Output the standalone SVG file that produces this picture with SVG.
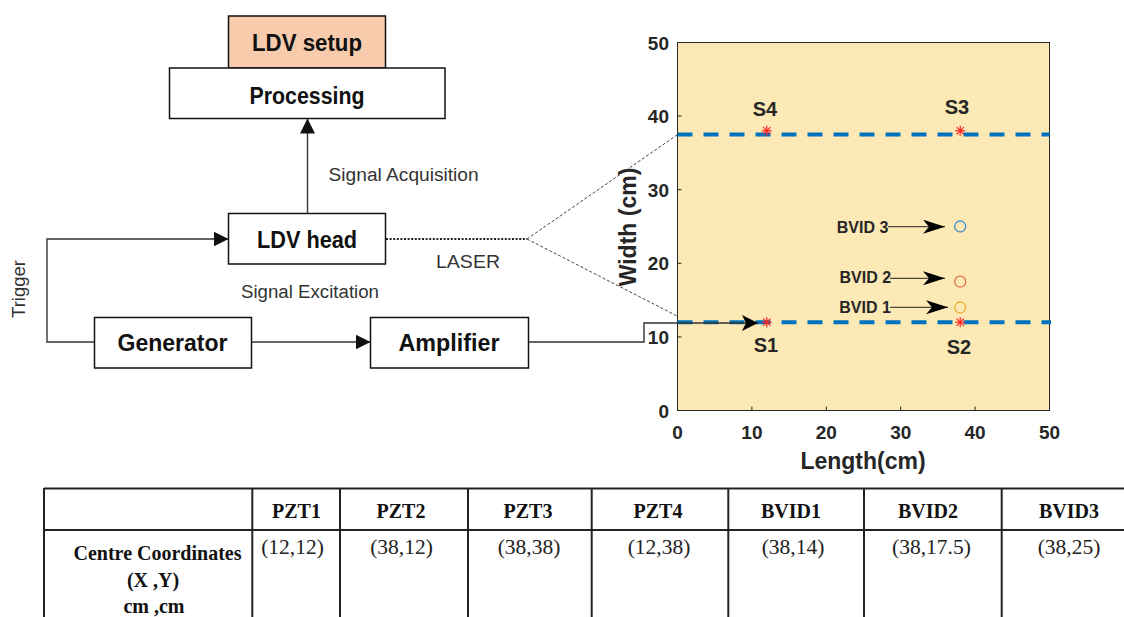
<svg xmlns="http://www.w3.org/2000/svg" width="1124" height="617" viewBox="0 0 1124 617">
<style>
.box{fill:#fff;stroke:#111;stroke-width:1.5}
.bl{font-family:"Liberation Sans",Arial,sans-serif;font-weight:bold;font-size:23.5px;fill:#111;text-anchor:middle}
.rl{font-family:"Liberation Sans",Arial,sans-serif;font-size:18px;fill:#333;text-anchor:middle}
.conn{fill:none;stroke:#333;stroke-width:1.4}
.ax{font-family:"Liberation Sans",Arial,sans-serif;font-weight:bold;fill:#262626}
.tick{stroke:#262626;stroke-width:1}
.blue{stroke:#0072bd;stroke-width:4;stroke-dasharray:15 11;fill:none}
.ast line{stroke:#ff2020;stroke-width:1.2}
.th{font-family:"Liberation Serif","Times New Roman",serif;font-weight:bold;font-size:20px;fill:#111;text-anchor:middle}
.td{font-family:"Liberation Serif","Times New Roman",serif;font-size:21.5px;fill:#222;text-anchor:middle}
.tl{stroke:#222;stroke-width:2}
</style>
<defs>
<marker id="tri" viewBox="0 0 15 15" refX="15" refY="7.5" markerWidth="15" markerHeight="15" markerUnits="userSpaceOnUse" orient="auto">
<path d="M0,0 L15,7.5 L0,15 z" fill="#111"/>
</marker>
<marker id="stealth" viewBox="0 0 22 14" refX="22" refY="7" markerWidth="22" markerHeight="14" markerUnits="userSpaceOnUse" orient="auto">
<path d="M0,0 L22,7 L0,14 L6,7 z" fill="#000"/>
</marker>
<marker id="stealth2" viewBox="0 0 16 16" refX="16" refY="8" markerWidth="16" markerHeight="16" markerUnits="userSpaceOnUse" orient="auto">
<path d="M0,0 L16,8 L0,16 L4,8 z" fill="#000"/>
</marker>
<g id="ast" class="ast">
<line x1="-5" y1="0" x2="5" y2="0"/>
<line x1="0" y1="-5" x2="0" y2="5"/>
<line x1="-3.6" y1="-3.6" x2="3.6" y2="3.6"/>
<line x1="-3.6" y1="3.6" x2="3.6" y2="-3.6"/>
</g>
</defs>
<rect width="1124" height="617" fill="#fff"/>

<!-- Plot -->
<g id="plot">
<rect x="677.5" y="42.5" width="372" height="368" fill="#fde9b5" stroke="#262626" stroke-width="1"/>
<g class="tick">
<line x1="751.9" y1="410.5" x2="751.9" y2="406.5"/>
<line x1="826.3" y1="410.5" x2="826.3" y2="406.5"/>
<line x1="900.7" y1="410.5" x2="900.7" y2="406.5"/>
<line x1="975.1" y1="410.5" x2="975.1" y2="406.5"/>
<line x1="677.5" y1="336.9" x2="681.5" y2="336.9"/>
<line x1="677.5" y1="263.3" x2="681.5" y2="263.3"/>
<line x1="677.5" y1="189.7" x2="681.5" y2="189.7"/>
<line x1="677.5" y1="116.1" x2="681.5" y2="116.1"/>
</g>
<g class="ax" font-size="19" text-anchor="end">
<text x="669" y="417.5">0</text>
<text x="669" y="343.9">10</text>
<text x="669" y="270.3">20</text>
<text x="669" y="196.7">30</text>
<text x="669" y="123.1">40</text>
<text x="669" y="49.5">50</text>
</g>
<g class="ax" font-size="19" text-anchor="middle">
<text x="677.5" y="438.5">0</text>
<text x="751.9" y="438.5">10</text>
<text x="826.3" y="438.5">20</text>
<text x="900.7" y="438.5">30</text>
<text x="975.1" y="438.5">40</text>
<text x="1049.5" y="438.5">50</text>
</g>
<text class="ax" font-size="23" text-anchor="middle" x="863" y="469">Length(cm)</text>
<text class="ax" font-size="23" text-anchor="middle" transform="translate(636,227) rotate(-90)">Width (cm)</text>
<line class="blue" x1="677.5" y1="134.5" x2="1049.5" y2="134.5"/>
<line class="blue" x1="677.5" y1="322.2" x2="1051" y2="322.2"/>
</g>

<g id="S1"><use href="#ast" x="766.8" y="322.2"/><text class="ax" font-size="20" text-anchor="middle" x="766" y="351.5">S1</text></g>
<g id="S2"><use href="#ast" x="960.2" y="322.2"/><text class="ax" font-size="20" text-anchor="middle" x="959" y="353.5">S2</text></g>
<g id="S3"><use href="#ast" x="960.2" y="130.8"/><text class="ax" font-size="20" text-anchor="middle" x="957" y="113.5">S3</text></g>
<g id="S4"><use href="#ast" x="766.8" y="130.8"/><text class="ax" font-size="20" text-anchor="middle" x="765" y="115.5">S4</text></g>

<g id="BVID3"><circle cx="960.2" cy="226.5" r="5.5" fill="none" stroke="#3d8ec9" stroke-width="1.3"/><text class="ax" font-size="16" text-anchor="middle" x="862.5" y="233">BVID 3</text></g>
<g id="BVID2"><circle cx="960.2" cy="281.7" r="5.5" fill="none" stroke="#e0764a" stroke-width="1.3"/><text class="ax" font-size="16" text-anchor="middle" x="865.3" y="283">BVID 2</text></g>
<g id="BVID1"><circle cx="960.2" cy="307.5" r="5.5" fill="none" stroke="#e8b030" stroke-width="1.3"/><text class="ax" font-size="16" text-anchor="middle" x="865" y="313">BVID 1</text></g>

<!-- Block diagram nodes -->
<g id="ldv-setup"><rect class="box" x="228.5" y="16" width="157" height="52" style="fill:#f8cbad"/><text class="bl" x="307" y="50.5" textLength="110" lengthAdjust="spacingAndGlyphs">LDV setup</text></g>
<g id="processing"><rect class="box" x="169.5" y="68" width="275.5" height="50.5"/><text class="bl" x="307" y="104" textLength="115" lengthAdjust="spacingAndGlyphs">Processing</text></g>
<g id="ldv-head"><rect class="box" x="228.5" y="213.5" width="157" height="50.5"/><text class="bl" x="307" y="248" textLength="100" lengthAdjust="spacingAndGlyphs">LDV head</text></g>
<g id="generator"><rect class="box" x="94.5" y="317.5" width="157" height="50.5"/><text class="bl" x="172.5" y="350.5" textLength="110" lengthAdjust="spacingAndGlyphs">Generator</text></g>
<g id="amplifier"><rect class="box" x="370.5" y="317.5" width="158" height="50.5"/><text class="bl" x="449" y="350.5" textLength="101" lengthAdjust="spacingAndGlyphs">Amplifier</text></g>

<!-- Connectors -->
<g id="connectors">
<line class="conn" x1="307.5" y1="213.5" x2="307.5" y2="118.5" marker-end="url(#tri)"/>
<polyline class="conn" points="94.5,342 47,342 47,239 228.5,239" marker-end="url(#tri)"/>
<line class="conn" x1="251.5" y1="342" x2="370.5" y2="342" marker-end="url(#tri)"/>
<polyline class="conn" points="528.5,342 644,342 644,323 758,323" stroke="#444" marker-end="url(#stealth2)"/>
<line x1="386" y1="239" x2="527" y2="239" stroke="#222" stroke-width="2" stroke-dasharray="2 1.6"/>
<line x1="527" y1="239" x2="677" y2="135" stroke="#444" stroke-width="1" stroke-dasharray="3 2"/>
<line x1="527" y1="239" x2="677" y2="316" stroke="#444" stroke-width="1" stroke-dasharray="3 2"/>
<line x1="888" y1="226.7" x2="945" y2="226.7" stroke="#222" stroke-width="1" marker-end="url(#stealth)"/>
<line x1="890" y1="278.3" x2="945" y2="278.3" stroke="#222" stroke-width="1" marker-end="url(#stealth)"/>
<line x1="890" y1="307.3" x2="948" y2="307.3" stroke="#222" stroke-width="1" marker-end="url(#stealth)"/>
<text class="rl" x="403.6" y="181" textLength="150" lengthAdjust="spacingAndGlyphs">Signal Acquisition</text>
<text class="rl" x="468" y="268" textLength="64" lengthAdjust="spacingAndGlyphs">LASER</text>
<text class="rl" x="310" y="298" textLength="138" lengthAdjust="spacingAndGlyphs">Signal Excitation</text>
<text class="rl" transform="translate(25,289) rotate(-90)" textLength="58" lengthAdjust="spacingAndGlyphs">Trigger</text>
</g>

<!-- Table -->
<g id="table">
<line class="tl" x1="44" y1="488.5" x2="1124" y2="488.5"/>
<line class="tl" x1="44" y1="530" x2="1124" y2="530"/>
<line class="tl" x1="44" y1="488" x2="44" y2="617"/>
<line class="tl" x1="252.3" y1="488" x2="252.3" y2="617"/>
<line class="tl" x1="340" y1="488" x2="340" y2="617"/>
<line class="tl" x1="468" y1="488" x2="468" y2="617"/>
<line class="tl" x1="591.7" y1="488" x2="591.7" y2="617"/>
<line class="tl" x1="728.3" y1="488" x2="728.3" y2="617"/>
<line class="tl" x1="864" y1="488" x2="864" y2="617"/>
<line class="tl" x1="1001.7" y1="488" x2="1001.7" y2="617"/>
<text class="th" x="296.5" y="518">PZT1</text>
<text class="th" x="401" y="518">PZT2</text>
<text class="th" x="528" y="518">PZT3</text>
<text class="th" x="658" y="518">PZT4</text>
<text class="th" x="791" y="518">BVID1</text>
<text class="th" x="928" y="518">BVID2</text>
<text class="th" x="1069" y="518">BVID3</text>
<text class="th" x="157.5" y="560">Centre Coordinates</text>
<text class="th" x="153" y="587">(X ,Y)</text>
<text class="th" x="154" y="613">cm ,cm</text>
<text class="td" x="292.5" y="554">(12,12)</text>
<text class="td" x="401.5" y="554">(38,12)</text>
<text class="td" x="529" y="554">(38,38)</text>
<text class="td" x="659" y="554">(12,38)</text>
<text class="td" x="793" y="554">(38,14)</text>
<text class="td" x="931.5" y="554">(38,17.5)</text>
<text class="td" x="1069" y="554">(38,25)</text>
</g>
</svg>
